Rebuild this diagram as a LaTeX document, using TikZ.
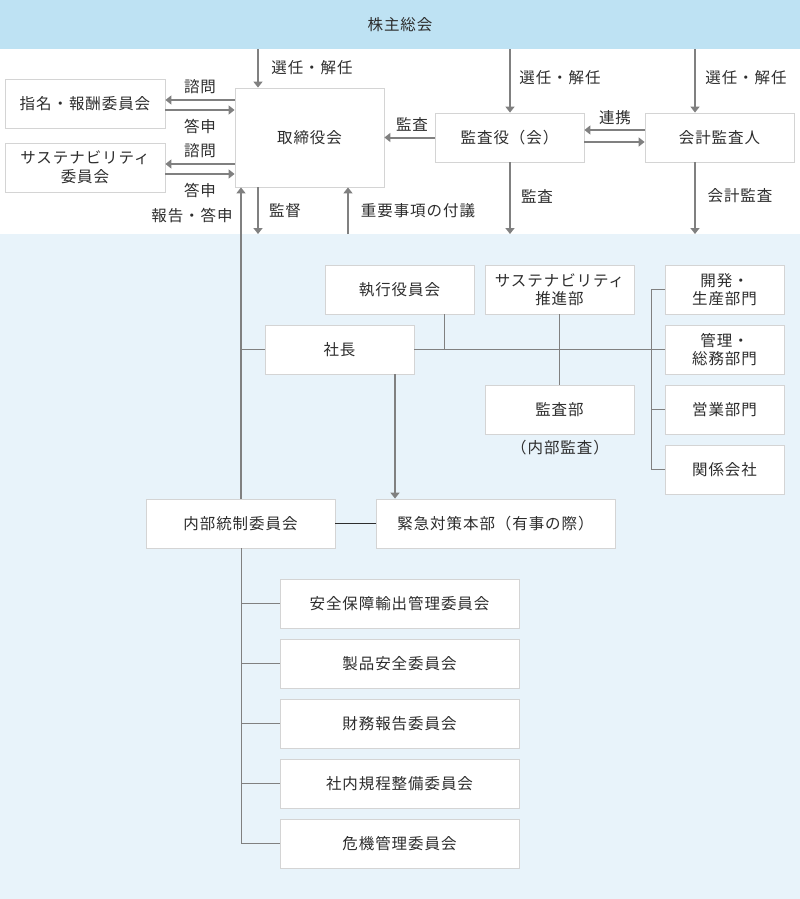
\documentclass[tikz,border=0pt]{standalone}
\usepackage{fontspec}
\setmainfont[LetterSpace=6]{Noto Sans CJK JP}
\usetikzlibrary{arrows.meta}
\definecolor{bandblue}{RGB}{190,226,243}
\definecolor{paleblue}{RGB}{232,243,250}
\definecolor{boxgray}{RGB}{212,212,212}
\definecolor{linegray}{RGB}{128,128,128}
\definecolor{txtgray}{RGB}{45,45,45}
\tikzset{
  box/.style 2 args={draw=boxgray, fill=white, line width=0.8pt, align=center,
    minimum width=#1, minimum height=#2, inner sep=0pt, text=txtgray},
  lab/.style={text=txtgray, inner sep=0pt},
  arr/.style={draw=linegray, line width=2pt, -{Triangle[length=6pt,width=9pt]}},
  conn/.style={draw=linegray, line width=1pt},
}
\begin{document}
\begin{tikzpicture}[x=1pt,y=-1pt,font=\fontsize{15.5}{18.5}\selectfont]
\useasboundingbox (0,0) rectangle (800,899);
% backgrounds
\fill[paleblue] (0,234) rectangle (800,899);
\node[fill=bandblue, minimum width=800, minimum height=49, inner sep=0pt, text=txtgray] (gm) at (400,24.5) {株主総会};
\coordinate (exec) at (400,234);

% governance
\node[box={160}{49}] (nom) at (85,103.5) {指名・報酬委員会};
\node[box={160}{49}] (sus) at (85,167.5) {サステナビリティ\\委員会};
\node[box={149}{99}] (bod) at (309.5,137.5) {取締役会};
\node[box={149}{49}] (aud) at (509.5,137.5) {監査役（会）};
\node[box={149}{49}] (acc) at (719.5,137.5) {会計監査人};

% execution
\node[box={149}{49}] (eb) at (399.5,289.5) {執行役員会};
\node[box={149}{49}] (sp) at (559.5,289.5) {サステナビリティ\\推進部};
\node[box={149}{49}] (pres) at (339.5,349.5) {社長};
\node[box={149}{49}] (ad) at (559.5,409.5) {監査部};
\node[lab] (adn) at (560,448) {（内部監査）};
\node[box={119}{49}] (d1) at (724.5,289.5) {開発・\\生産部門};
\node[box={119}{49}] (d2) at (724.5,349.5) {管理・\\総務部門};
\node[box={119}{49}] (d3) at (724.5,409.5) {営業部門};
\node[box={119}{49}] (d4) at (724.5,469.5) {関係会社};
\node[box={189}{49}] (ics) at (240.5,523.5) {内部統制委員会};
\node[box={239}{49}] (er) at (495.5,523.5) {緊急対策本部（有事の際）};
\node[box={239}{49}] (c1) at (399.5,603.5) {安全保障輸出管理委員会};
\node[box={239}{49}] (c2) at (399.5,663.5) {製品安全委員会};
\node[box={239}{49}] (c3) at (399.5,723.5) {財務報告委員会};
\node[box={239}{49}] (c4) at (399.5,783.5) {社内規程整備委員会};
\node[box={239}{49}] (c5) at (399.5,843.5) {危機管理委員会};

% arrows from the general meeting
\draw[arr] (258,0 |- gm.south) -- (258,0 |- bod.north);
\draw[arr] (510,0 |- gm.south) -- (510,0 |- aud.north);
\draw[arr] (695,0 |- gm.south) -- (695,0 |- acc.north);
\node[lab] (l1) at (312,68) {選任・解任};
\node[lab] (l2) at (560,78) {選任・解任};
\node[lab] (l3) at (746,78) {選任・解任};

% committees of the board
\draw[arr] (bod.west |- 0,100) -- (nom.east |- 0,100);
\draw[arr] (nom.east |- 0,110) -- (bod.west |- 0,110);
\draw[arr] (bod.west |- 0,164) -- (sus.east |- 0,164);
\draw[arr] (sus.east |- 0,174) -- (bod.west |- 0,174);
\node[lab] (q1) at (200,87) {諮問};
\node[lab] (a1) at (200,126) {答申};
\node[lab] (q2) at (200,151) {諮問};
\node[lab] (a2) at (200,190) {答申};

% audit
\draw[arr] (aud.west) -- (bod.east |- aud.west);
\node[lab] (l4) at (412,124) {監査};
\draw[arr] (acc.west |- 0,130) -- (aud.east |- 0,130);
\draw[arr] (aud.east |- 0,142) -- (acc.west |- 0,142);
\node[lab] (l5) at (615,118) {連携};

% down to execution
\draw[arr] (258,0 |- bod.south) -- (258,0 |- exec);
\node[lab] (l6) at (285,211) {監督};
\draw[arr] (348,0 |- exec) -- (348,0 |- bod.south);
\node[lab] (l7) at (418,211) {重要事項の付議};
\draw[arr] (510,0 |- aud.south) -- (510,0 |- exec);
\node[lab] (l8) at (537,196) {監査};
\draw[arr] (695,0 |- acc.south) -- (695,0 |- exec);
\node[lab] (l9) at (740,196) {会計監査};

% reporting line
\draw[arr] (241,0 |- ics.north) -- (241,0 |- bod.south);
\node[lab] (l10) at (192,216) {報告・答申};
\draw[conn] (241,0 |- ics.south) -- (241,0 |- c5);
\foreach \c in {c1,c2,c3,c4,c5}
  \draw[conn] (241,0 |- \c) -- (\c.west);
\draw[conn] (241,0 |- pres) -- (pres.west);

% president
\draw[conn] (pres.east) -- (d2.west);
\draw[conn] (444,0 |- eb.south) -- (444,0 |- pres);
\draw[conn] (sp.south) -- (ad.north);
\draw[conn] (651,0 |- d1) -- (651,0 |- d4);
\foreach \d in {d1,d2,d3,d4}
  \draw[conn] (651,0 |- \d) -- (\d.west);
\draw[arr] (395,0 |- pres.south) -- (395,0 |- er.north);
\draw[line width=1pt, draw=txtgray] (ics.east) -- (er.west);
\end{tikzpicture}
\end{document}
